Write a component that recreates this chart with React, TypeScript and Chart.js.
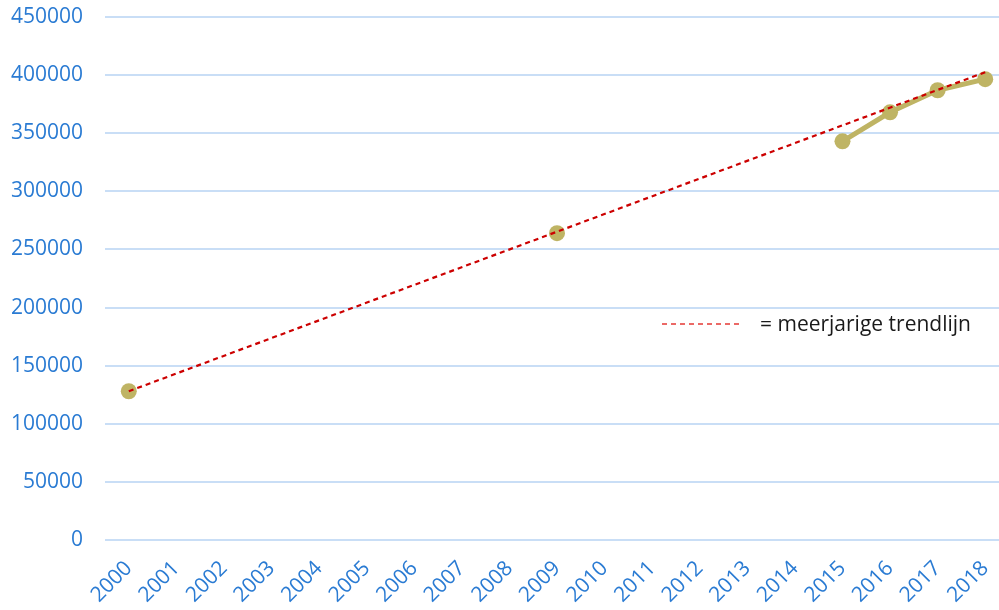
import React, { useEffect, useRef } from "react";
import { Chart, registerables } from "chart.js";

Chart.register(...registerables);

const years = ["2000","2001","2002","2003","2004","2005","2006","2007","2008","2009","2010","2011","2012","2013","2014","2015","2016","2017","2018"];
const measured: (number | null)[] = [128000, null, null, null, null, null, null, null, null, 264000, null, null, null, null, null, 343000, 368000, 387000, 396500];
const trend: (number | null)[] = [128000, null, null, null, null, null, null, null, null, null, null, null, null, null, null, null, null, null, 402500];
const legendLabel = "= meerjarige trendlijn";

const FONT = "'Open Sans', sans-serif";
const BLUE = "#2a7bd3";

const legendPlugin = {
  id: "trendLegend",
  afterDraw(chart: any) {
    const ctx = chart.ctx;
    ctx.save();
    ctx.strokeStyle = "#e53935";
    ctx.lineWidth = 1.5;
    ctx.setLineDash([5, 4]);
    ctx.beginPath();
    ctx.moveTo(662, 324);
    ctx.lineTo(741, 324);
    ctx.stroke();
    ctx.setLineDash([]);
    ctx.fillStyle = "#1a1a1a";
    ctx.font = `21px ${FONT}`;
    ctx.textBaseline = "middle";
    ctx.textAlign = "left";
    ctx.fillText(legendLabel, 760, 325);
    ctx.restore();
  },
};

export default function App() {
  const ref = useRef<HTMLCanvasElement | null>(null);
  useEffect(() => {
    document.body.style.margin = "0";
    document.body.style.overflow = "hidden";
    const chart = new Chart(ref.current as HTMLCanvasElement, {
      type: "line",
      data: {
        labels: years,
        datasets: [
          {
            label: "trend",
            data: trend,
            borderColor: "#cc0000",
            borderWidth: 2.2,
            borderDash: [5, 4],
            pointRadius: 0,
            spanGaps: true,
            fill: false,
          },
          {
            label: "waarde",
            data: measured,
            borderColor: "#bfb464",
            backgroundColor: "#bfb464",
            borderWidth: 5,
            pointRadius: 8,
            pointBorderWidth: 0,
            pointBackgroundColor: "#bfb464",
            spanGaps: false,
            fill: false,
          },
        ],
      },
      options: {
        animation: false,
        responsive: false,
        layout: { padding: { left: 11, top: 17, right: 0, bottom: 0 } },
        plugins: { legend: { display: false }, tooltip: { enabled: false } },
        scales: {
          x: {
            type: "category",
            offset: true,
            grid: { display: false, drawTicks: false },
            border: { display: false },
            afterFit: (s: any) => {
              s.paddingLeft = 0;
              s.paddingRight = 0;
              s.height = 77;
            },
            ticks: {
              color: BLUE,
              font: { family: FONT, size: 21 },
              minRotation: 45,
              maxRotation: 45,
              autoSkip: false,
              padding: 16,
            },
          },
          y: {
            min: 0,
            max: 450000,
            grid: { color: "#c9def6", lineWidth: 2, drawTicks: false },
            border: { display: false },
            afterFit: (s: any) => {
              s.paddingTop = 0;
              s.paddingBottom = 0;
              s.width = 94;
            },
            ticks: {
              stepSize: 50000,
              color: BLUE,
              font: { family: FONT, size: 21 },
              padding: 22,
              callback: (v: any) => String(v),
            },
          },
        },
      },
      plugins: [legendPlugin],
    });
    return () => chart.destroy();
  }, []);
  return (
    <div style={{ position: "fixed", left: 0, top: 0, width: 999, height: 610, overflow: "hidden", background: "#fff" }}>
      <canvas ref={ref} width={1017} height={617} style={{ display: "block" }} />
    </div>
  );
}
